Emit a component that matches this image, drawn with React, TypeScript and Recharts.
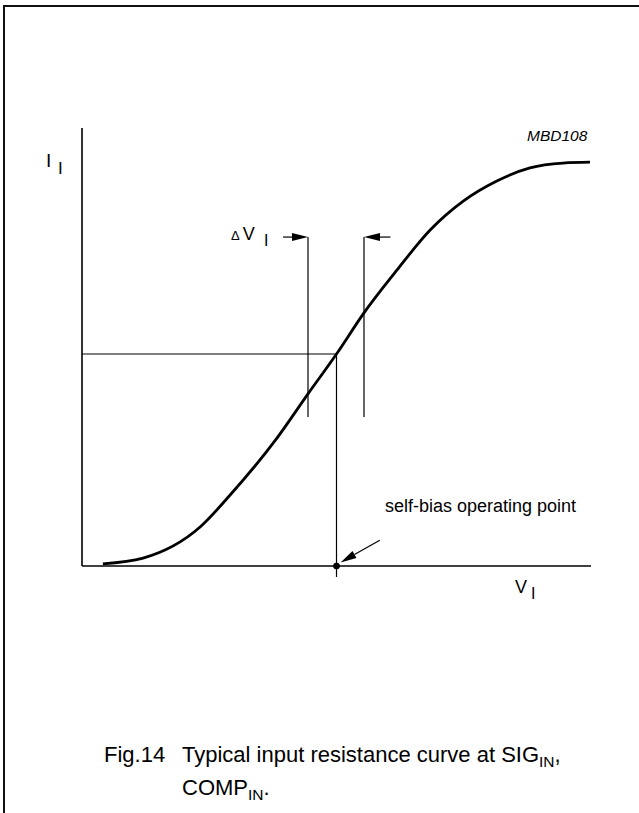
import { LineChart, Line, XAxis, YAxis, ReferenceLine, ReferenceDot } from 'recharts';

// V_I (arbitrary units 0..10) vs I_I (arbitrary units 0..10)
const voltage = [0.41, 1.2, 2.32, 2.91, 3.83, 4.44, 5.0, 5.54, 6.19, 6.84, 7.49, 8.15, 8.8, 9.45, 9.98];
const current = [0.05, 0.18, 0.89, 1.62, 2.92, 3.93, 4.84, 5.78, 6.76, 7.67, 8.33, 8.79, 9.09, 9.2, 9.22];

const opPoint = { v: 5.0, i: 4.84 };
const deltaV = [4.44, 5.54];
const deltaSpan = [3.4, 7.51];
const arrowTails = [3.95, 6.06];
const calloutStart = { v: 5.85, i: 0.59 };
const calloutEnd = { v: 5.08, i: 0.08 };

const data = voltage.map((v, k) => ({ v, i: current[k] }));

const FONT = '"Liberation Sans", Arial, sans-serif';

const arrowShape = (props: any) => {
  const { x1, y1, x2, y2 } = props;
  const ang = Math.atan2(y2 - y1, x2 - x1);
  const len = 16;
  const half = 4;
  const bx = x2 - len * Math.cos(ang);
  const by = y2 - len * Math.sin(ang);
  const px = -Math.sin(ang) * half;
  const py = Math.cos(ang) * half;
  return (
    <g>
      <line x1={x1} y1={y1} x2={bx} y2={by} stroke="#000" strokeWidth={1.2} />
      <path d={`M${x2},${y2}L${bx + px},${by + py}L${bx - px},${by - py}Z`} fill="#000" />
    </g>
  );
};

export default function App() {
  return (
    <div style={{ position: 'absolute', left: 0, top: 0, width: 639, height: 813, background: '#fff' }}>
      <div
        style={{
          position: 'absolute',
          left: 3,
          top: 5,
          right: 0,
          bottom: 0,
          borderLeft: '2px solid #111',
          borderTop: '2px solid #111',
        }}
      />
      <LineChart
        width={639}
        height={813}
        data={data}
        margin={{ top: 128, right: 48, bottom: 246, left: 81 }}
        style={{ position: 'absolute', left: 0, top: 0 }}
      >
        <XAxis
          type="number"
          dataKey="v"
          domain={[0, 10]}
          tick={false}
          tickLine={false}
          height={1}
          axisLine={{ stroke: '#000', strokeWidth: 1.6 }}
        />
        <YAxis
          type="number"
          domain={[0, 10]}
          tick={false}
          tickLine={false}
          width={1}
          axisLine={{ stroke: '#000', strokeWidth: 1.6 }}
        />
        <ReferenceLine
          segment={[{ x: 0, y: opPoint.i }, { x: opPoint.v, y: opPoint.i }]}
          stroke="#000"
          strokeWidth={1}
          ifOverflow="visible"
        />
        <ReferenceLine
          segment={[{ x: opPoint.v, y: -0.25 }, { x: opPoint.v, y: opPoint.i }]}
          stroke="#000"
          strokeWidth={1.2}
          ifOverflow="visible"
        />
        {deltaV.map((v) => (
          <ReferenceLine
            key={v}
            segment={[{ x: v, y: deltaSpan[0] }, { x: v, y: deltaSpan[1] }]}
            stroke="#000"
            strokeWidth={1.2}
            ifOverflow="visible"
          />
        ))}
        {deltaV.map((v, k) => (
          <ReferenceLine
            key={'a' + v}
            segment={[{ x: arrowTails[k], y: deltaSpan[1] }, { x: v, y: deltaSpan[1] }]}
            shape={arrowShape}
            ifOverflow="visible"
          />
        ))}
        <ReferenceLine
          segment={[{ x: calloutStart.v, y: calloutStart.i }, { x: calloutEnd.v, y: calloutEnd.i }]}
          shape={arrowShape}
          ifOverflow="visible"
        />
        <Line
          type="monotone"
          dataKey="i"
          stroke="#000"
          strokeWidth={2.8}
          dot={false}
          isAnimationActive={false}
        />
        <ReferenceDot x={opPoint.v} y={0} r={3} fill="#000" stroke="#000" ifOverflow="visible" />

        <text x={46} y={167} fontFamily={FONT} fontSize={19} fill="#000">I</text>
        <text x={58} y={174} fontFamily={FONT} fontSize={17} fill="#000">I</text>
        <text x={527} y={141} fontFamily={FONT} fontSize={15.5} fontStyle="italic" fill="#000">MBD108</text>
        <text x={231} y={240} fontFamily={FONT} fill="#000">
          <tspan fontSize={13}>Δ</tspan>
          <tspan fontSize={18} dx={3}>V</tspan>
        </text>
        <text x={264} y={246} fontFamily={FONT} fontSize={16} fill="#000">I</text>
        <text x={385} y={512} fontFamily={FONT} fontSize={18} fill="#000">self-bias operating point</text>
        <text x={515} y={593} fontFamily={FONT} fontSize={18} fill="#000">V</text>
        <text x={531} y={599} fontFamily={FONT} fontSize={16} fill="#000">I</text>

        <text x={104} y={762} fontFamily={FONT} fontSize={22} fill="#000">Fig.14</text>
        <text x={182} y={762} fontFamily={FONT} fontSize={22} fill="#000">
          Typical input resistance curve at SIG
          <tspan fontSize={15.5} dy={5}>IN</tspan>
          <tspan dy={-5}>,</tspan>
        </text>
        <text x={182} y={795} fontFamily={FONT} fontSize={22} fill="#000">
          COMP
          <tspan fontSize={15.5} dy={5}>IN</tspan>
          <tspan dy={-5}>.</tspan>
        </text>
      </LineChart>
    </div>
  );
}
